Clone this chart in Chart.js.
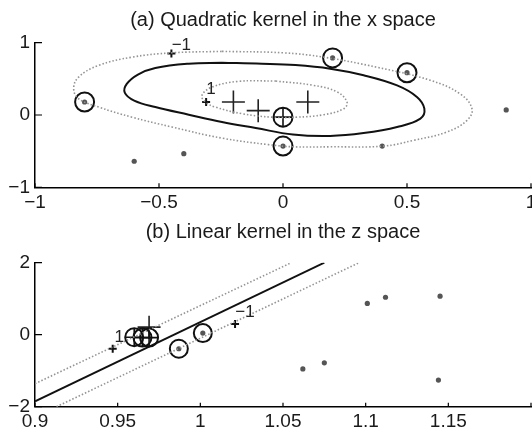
<!DOCTYPE html>
<html>
<head>
<meta charset="utf-8">
<script src="https://cdn.jsdelivr.net/npm/chart.js@4.4.1/dist/chart.umd.min.js"></script>
<style>
  html, body { margin: 0; padding: 0; background: #fff; overflow: hidden; }
  #wrap { position: relative; width: 532px; height: 435px; overflow: hidden; }
  .box { position: absolute; left: 0; width: 545px; }
  #boxA { top: 0; height: 215px; }
  #boxB { top: 215px; height: 220px; }
</style>
</head>
<body>
<div id="wrap">
  <div class="box" id="boxA"><canvas id="chartA"></canvas></div>
  <div class="box" id="boxB"><canvas id="chartB"></canvas></div>
</div>
<script>
// ---- (a) x space ----
const negX = [-0.6, -0.4, 0.4, 0.9];
const negY = [-0.64, -0.535, -0.43, 0.07];
const svNegX = [-0.8, 0.2, 0.5, 0.0];
const svNegY = [0.18, 0.79, 0.585, -0.43];
const posX = [-0.2, -0.1, 0.1];
const posY = [0.18, 0.06, 0.18];
const svPosX = [0.0];
const svPosY = [-0.03];

// contour f = 0 (solid), traced from the top
const boundX = [-0.246, -0.085, 0.05, 0.19, 0.325, 0.46, 0.54, 0.57, 0.554, 0.46, 0.325, 0.19, 0.04, -0.11, -0.246, -0.38, -0.515, -0.6, -0.638, -0.63, -0.585, -0.515, -0.38, -0.246];
const boundY = [0.723, 0.71, 0.69, 0.64, 0.55, 0.41, 0.25, 0.087, -0.05, -0.166, -0.25, -0.29, -0.27, -0.18, -0.097, 0.004, 0.11, 0.2, 0.31, 0.43, 0.56, 0.65, 0.71, 0.723];
// contour f = -1 (outer dotted)
const outerX = [-0.246, 0.0, 0.164, 0.379, 0.594, 0.715, 0.762, 0.742, 0.661, 0.527, 0.406, 0.19, 0.043, -0.058, -0.246, -0.448, -0.609, -0.743, -0.824, -0.844, -0.824, -0.743, -0.609, -0.448, -0.246];
const outerY = [0.88, 0.86, 0.80, 0.66, 0.48, 0.29, 0.087, -0.074, -0.235, -0.35, -0.43, -0.44, -0.44, -0.41, -0.32, -0.166, -0.03, 0.11, 0.225, 0.364, 0.525, 0.686, 0.80, 0.86, 0.88];
// contour f = +1 (inner dotted)
const innerX = [-0.03, 0.123, 0.218, 0.258, 0.245, 0.164, 0.056, -0.044, -0.165, -0.273, -0.313, -0.327, -0.286, -0.18, -0.03];
const innerY = [0.47, 0.41, 0.32, 0.18, 0.087, 0.004, -0.03, -0.03, 0.018, 0.11, 0.18, 0.27, 0.387, 0.465, 0.47];

const labelAX = [-0.31, -0.45];
const labelAY = [0.18, 0.85];
const labelATextX = [-0.29, -0.41];
const labelATextY = [0.35, 0.97];
const labelAText = ['1', '\u22121'];

// ---- (b) z space ----
const negZx = [1.062, 1.075, 1.101, 1.112, 1.145, 1.144];
const negZy = [-0.95, -0.78, 0.87, 1.04, 1.07, -1.26];
const svNegZx = [0.987, 1.0015];
const svNegZy = [-0.39, 0.045];
const posZx = [0.969];
const posZy = [0.21];
const svPosZx = [0.960, 0.965, 0.969];
const svPosZy = [-0.07, -0.08, -0.08];

const lineZx = [0.9, 1.075];
const lineZy = [-1.85, 2.0];
const upperZx = [0.9, 1.055];
const upperZy = [-1.36, 2.0];
const lowerZx = [0.913, 1.096];
const lowerZy = [-2.0, 2.0];

const labelBX = [0.947, 1.021];
const labelBY = [-0.39, 0.30];
const labelBTextX = [0.951, 1.027];
const labelBTextY = [-0.07, 0.63];
const labelBText = ['1', '\u22121'];

const FONT = '"Liberation Sans", Arial, Helvetica, sans-serif';
const pts = (xs, ys) => xs.map((x, i) => ({ x: x, y: ys[i] }));

const inwardTicks = {
  id: 'inwardTicks',
  afterDatasetsDraw(chart) {
    const { ctx, chartArea, scales } = chart;
    ctx.save();
    ctx.strokeStyle = '#000';
    ctx.lineWidth = 1.2;
    ctx.beginPath();
    scales.x.ticks.forEach(t => {
      const px = scales.x.getPixelForValue(t.value);
      ctx.moveTo(px, chartArea.bottom);
      ctx.lineTo(px, chartArea.bottom - 4);
    });
    scales.y.ticks.forEach(t => {
      const py = scales.y.getPixelForValue(t.value);
      ctx.moveTo(chartArea.left, py);
      ctx.lineTo(chartArea.left + 7, py);
    });
    ctx.stroke();
    ctx.restore();
  }
};

const contourLabels = {
  id: 'contourLabels',
  afterDatasetsDraw(chart, args, opts) {
    const { ctx, scales } = chart;
    ctx.save();
    ctx.font = '17px ' + FONT;
    ctx.fillStyle = '#222';
    ctx.textAlign = 'center';
    ctx.textBaseline = 'middle';
    opts.x.forEach((x, i) => {
      ctx.fillText(opts.text[i], scales.x.getPixelForValue(x), scales.y.getPixelForValue(opts.y[i]));
    });
    ctx.restore();
  }
};

function fmt(v, hide) {
  if (hide !== undefined && Math.abs(v - hide) < 1e-9) return '';
  const s = String(Math.round(v * 100) / 100);
  return s.replace('-', '\u2212');
}

function makeOptions(o) {
  return {
    responsive: true,
    maintainAspectRatio: false,
    animation: false,
    events: [],
    layout: { padding: { left: 0, right: 14, top: 0, bottom: 0 } },
    plugins: {
      legend: { display: false },
      tooltip: { enabled: false },
      title: {
        display: true,
        fullSize: false,
        text: o.title,
        color: '#1a1a1a',
        font: { family: FONT, size: 20, weight: 'normal', lineHeight: 1.2 },
        padding: { top: o.titleTop, bottom: o.titleBottom }
      },
      contourLabels: { x: o.textX, y: o.textY, text: o.text }
    },
    scales: {
      x: {
        type: 'linear',
        min: o.xmin, max: o.xmax,
        grid: { display: false, drawTicks: false },
        border: { display: true, color: '#000', width: 1.5 },
        ticks: {
          stepSize: o.xstep, color: '#1a1a1a', padding: 4, maxRotation: 0, autoSkip: false,
          font: { family: FONT, size: 19 },
          callback: v => fmt(v, o.hideX)
        },
        afterFit: s => { s.height = o.xHeight; s.paddingLeft = 0; s.paddingRight = 0; }
      },
      y: {
        type: 'linear',
        min: o.ymin, max: o.ymax,
        grid: { display: false, drawTicks: false },
        border: { display: true, color: '#000', width: 1.5 },
        ticks: {
          stepSize: o.ystep, color: '#1a1a1a', padding: 5,
          font: { family: FONT, size: 19 },
          callback: v => fmt(v)
        },
        afterFit: s => { s.width = 35; s.paddingTop = 0; s.paddingBottom = 0; }
      }
    }
  };
}

const dotted = { borderColor: '#949494', borderWidth: 1.6, borderDash: [1.5, 2], pointRadius: 0, showLine: true, fill: false };
const solid = { borderColor: '#111', borderWidth: 2, pointRadius: 0, showLine: true, fill: false };

new Chart(document.getElementById('chartA'), {
  type: 'scatter',
  data: {
    datasets: [
      Object.assign({ data: pts(outerX, outerY), tension: 0.4 }, dotted),
      Object.assign({ data: pts(innerX, innerY), tension: 0.4 }, dotted),
      Object.assign({ data: pts(boundX, boundY), tension: 0.4 }, solid),
      { data: pts(negX.concat(svNegX), negY.concat(svNegY)), pointStyle: 'circle', pointRadius: 2.6, pointBackgroundColor: '#555', pointBorderColor: '#555', pointBorderWidth: 0 },
      { data: pts(svNegX, svNegY), pointStyle: 'circle', pointRadius: 9.5, pointBackgroundColor: 'rgba(0,0,0,0)', pointBorderColor: '#111', pointBorderWidth: 2 },
      { data: pts(svPosX, svPosY), pointStyle: 'circle', pointRadius: 9.5, pointBackgroundColor: 'rgba(0,0,0,0)', pointBorderColor: '#111', pointBorderWidth: 2 },
      { data: pts(svPosX, svPosY), pointStyle: 'cross', pointRadius: 9.5, pointBorderColor: '#111', pointBorderWidth: 1.6 },
      { data: pts(posX, posY), pointStyle: 'cross', pointRadius: 11.5, pointBorderColor: '#222', pointBorderWidth: 1.6 },
      { data: pts(labelAX, labelAY), pointStyle: 'cross', pointRadius: 4, pointBorderColor: '#111', pointBorderWidth: 2 }
    ]
  },
  options: makeOptions({
    title: '(a) Quadratic kernel in the x space', titleTop: 8, titleBottom: 10.7,
    xmin: -1, xmax: 1, xstep: 0.5, ymin: -1, ymax: 1, ystep: 1, xHeight: 27.7,
    textX: labelATextX, textY: labelATextY, text: labelAText
  }),
  plugins: [inwardTicks, contourLabels]
});

new Chart(document.getElementById('chartB'), {
  type: 'scatter',
  data: {
    datasets: [
      Object.assign({ data: pts(upperZx, upperZy) }, dotted),
      Object.assign({ data: pts(lowerZx, lowerZy) }, dotted),
      Object.assign({ data: pts(lineZx, lineZy) }, solid),
      { data: pts(negZx.concat(svNegZx), negZy.concat(svNegZy)), pointStyle: 'circle', pointRadius: 2.6, pointBackgroundColor: '#555', pointBorderColor: '#555', pointBorderWidth: 0 },
      { data: pts(svNegZx, svNegZy), pointStyle: 'circle', pointRadius: 9, pointBackgroundColor: 'rgba(0,0,0,0)', pointBorderColor: '#111', pointBorderWidth: 2 },
      { data: pts(svPosZx, svPosZy), pointStyle: 'circle', pointRadius: 9, pointBackgroundColor: 'rgba(0,0,0,0)', pointBorderColor: '#111', pointBorderWidth: 2 },
      { data: pts(svPosZx, svPosZy), pointStyle: 'cross', pointRadius: 9, pointBorderColor: '#111', pointBorderWidth: 1.6 },
      { data: pts(posZx, posZy), pointStyle: 'cross', pointRadius: 11.5, pointBorderColor: '#222', pointBorderWidth: 1.6 },
      { data: pts(labelBX, labelBY), pointStyle: 'cross', pointRadius: 4, pointBorderColor: '#111', pointBorderWidth: 2 }
    ]
  },
  options: makeOptions({
    title: '(b) Linear kernel in the z space', titleTop: 5, titleBottom: 18.7,
    xmin: 0.9, xmax: 1.2, xstep: 0.05, ymin: -2, ymax: 2, ystep: 2, xHeight: 28.3, hideX: 1.2,
    textX: labelBTextX, textY: labelBTextY, text: labelBText
  }),
  plugins: [inwardTicks, contourLabels]
});
</script>
</body>
</html>
